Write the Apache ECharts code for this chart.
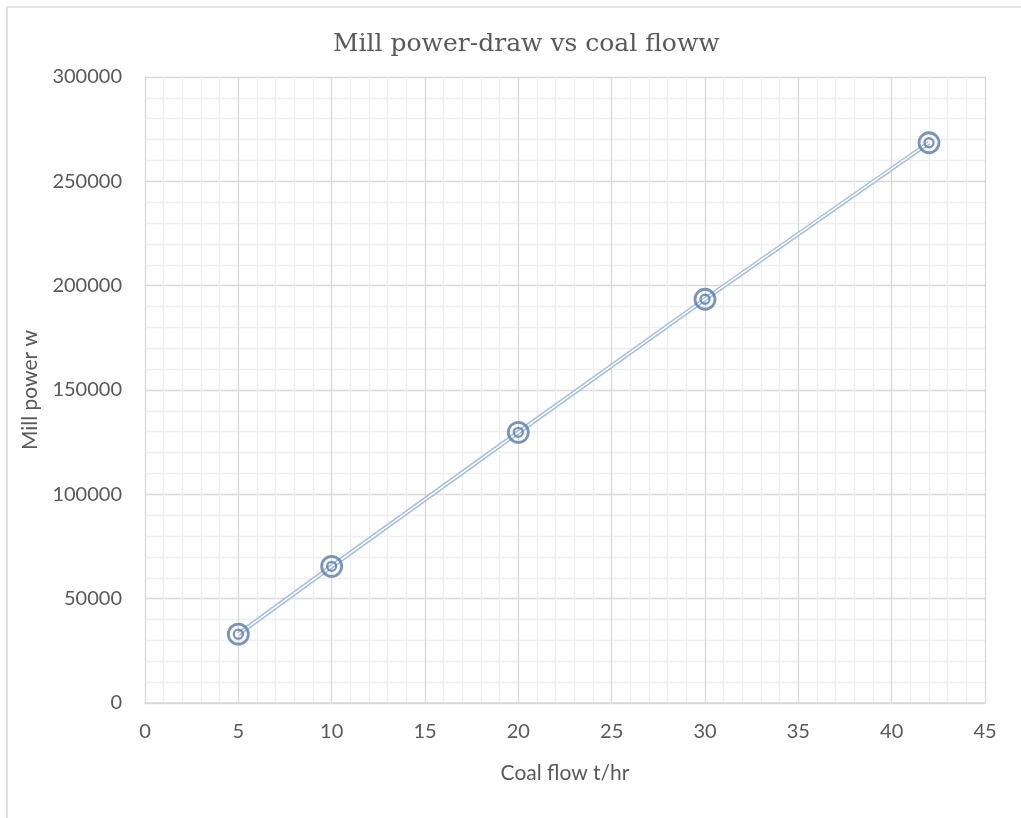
<!DOCTYPE html>
<html>
<head>
<meta charset="utf-8">
<title>Mill power-draw vs coal floww</title>
<script src="https://cdn.jsdelivr.net/npm/echarts@6/dist/echarts.min.js"></script>
<style>
  html, body { margin: 0; padding: 0; background: #ffffff; }
  #chart { width: 1021px; height: 818px; }
</style>
</head>
<body>
<div id="chart"></div>
<script>
// Coal feed rate (t/hr) and measured mill power draw (W)
const coalFlow = [5, 10, 20, 30, 42];
const millPower = [33000, 65500, 129700, 193500, 268500];

const xTicks = { min: 0, max: 45, interval: 5 };
const yTicks = { min: 0, max: 300000, interval: 50000 };

const points = coalFlow.map((x, i) => [x, millPower[i]]);

const labelFont = 'Lato, "Open Sans", "Liberation Sans", sans-serif';
const textColor = '#595959';
const markerColor = '#5a7aa7';

const chart = echarts.init(document.getElementById('chart'), null, { renderer: 'canvas' });

chart.setOption({
  animation: false,
  backgroundColor: '#ffffff',
  title: {
    text: 'Mill power-draw vs coal floww',
    left: 328,
    top: 27,
    textStyle: {
      fontFamily: '"DejaVu Serif", "Liberation Serif", serif',
      fontWeight: 'normal',
      fontSize: 25,
      color: textColor
    }
  },
  graphic: [{
    type: 'rect',
    shape: { x: 7, y: 7, width: 1040, height: 840 },
    style: { fill: 'none', stroke: '#d9d9d9', lineWidth: 1.5 },
    silent: true,
    z: -1
  }],
  grid: { left: 145, right: 36, top: 77, bottom: 115 },
  xAxis: {
    type: 'value',
    min: xTicks.min, max: xTicks.max, interval: xTicks.interval,
    name: 'Coal flow t/hr',
    nameLocation: 'middle',
    nameGap: 60,
    nameTextStyle: { fontFamily: labelFont, fontSize: 21, color: textColor },
    axisLine: { show: true, lineStyle: { color: '#d9d9d9', width: 1.5 } },
    axisTick: { show: false },
    axisLabel: { fontFamily: labelFont, fontSize: 20, color: textColor, margin: 19 },
    splitLine: { show: true, lineStyle: { color: '#d9d9d9', width: 1.3 } },
    minorTick: { show: false, splitNumber: 5 },
    minorSplitLine: { show: true, lineStyle: { color: '#efefef', width: 1.3 } }
  },
  yAxis: {
    type: 'value',
    min: yTicks.min, max: yTicks.max, interval: yTicks.interval,
    name: 'Mill power w',
    nameLocation: 'middle',
    nameGap: 104,
    nameRotate: 90,
    nameTextStyle: { fontFamily: labelFont, fontSize: 21, color: textColor },
    axisLine: { show: false },
    axisTick: { show: false },
    axisLabel: {
      fontFamily: labelFont, fontSize: 20, color: textColor, margin: 23,
      formatter: (v) => String(v)
    },
    splitLine: { show: true, lineStyle: { color: '#d9d9d9', width: 1.3 } },
    minorTick: { show: false, splitNumber: 5 },
    minorSplitLine: { show: true, lineStyle: { color: '#efefef', width: 1.3 } }
  },
  series: [
    {
      // outer stroke of the double line
      type: 'line',
      data: points,
      symbol: 'none',
      lineStyle: { color: '#a3bddf', width: 4.5 },
      z: 3
    },
    {
      // white core of the double line
      type: 'line',
      data: points,
      symbol: 'none',
      lineStyle: { color: '#ffffff', width: 1.5 },
      z: 4
    },
    {
      type: 'scatter',
      data: points,
      symbol: 'circle',
      symbolSize: 20,
      itemStyle: { color: 'rgba(255,255,255,0)', borderColor: markerColor, borderWidth: 2.8 },
      z: 5
    },
    {
      type: 'scatter',
      data: points,
      symbol: 'circle',
      symbolSize: 9,
      itemStyle: { color: 'rgba(255,255,255,0)', borderColor: markerColor, borderWidth: 2.3 },
      z: 6
    }
  ]
});
</script>
</body>
</html>
